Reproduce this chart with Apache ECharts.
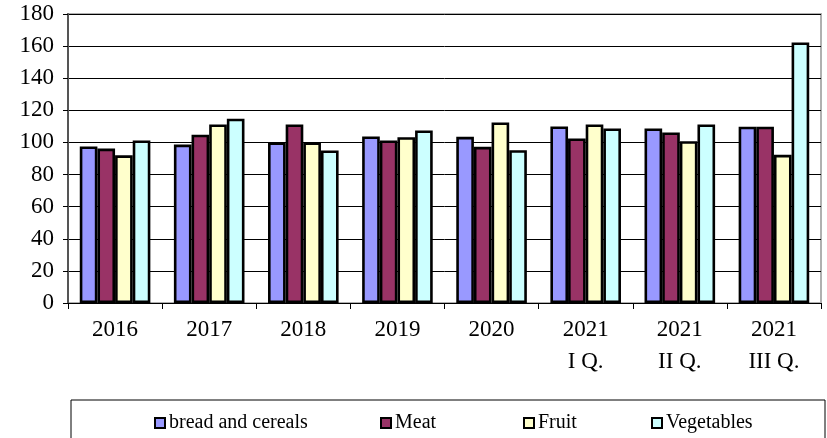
<!DOCTYPE html>
<html>
<head>
<meta charset="utf-8">
<script src="https://cdn.jsdelivr.net/npm/echarts@6/dist/echarts.min.js"></script>
<style>
  html, body { margin: 0; padding: 0; background: #fff; }
  #chart { width: 827px; height: 438px; }
</style>
</head>
<body>
<div id="chart"></div>
<script>
var categories = ['2016', '2017', '2018', '2019', '2020', '2021\nI Q.', '2021\nII Q.', '2021\nIII Q.'];
var seriesNames = ['bread and cereals', 'Meat', 'Fruit', 'Vegetables'];
var breadCereals = [97.5, 98.7, 100.0, 103.7, 103.5, 110.0, 108.7, 109.8];
var meat = [96.2, 104.8, 111.2, 101.2, 97.3, 102.5, 106.2, 109.8];
var fruit = [92.0, 111.2, 100.0, 103.3, 112.5, 111.2, 100.8, 92.3];
var vegetables = [101.2, 114.8, 95.0, 107.5, 95.2, 108.7, 111.2, 162.3];
var yTicks = { min: 0, max: 180, interval: 20 };

var colors = ['#9999ff', '#993366', '#ffffcc', '#ccffff'];
var values = [breadCereals, meat, fruit, vegetables];
var legendLefts = [149, 375, 518, 646];
var font = 'Liberation Serif';

var chart = echarts.init(document.getElementById('chart'));

var series = seriesNames.map(function(name, i) {
	return {
		name: name,
		type: 'bar',
		data: values[i],
		barGap: '0%',
		barCategoryGap: '25%',
		itemStyle: {
			color: colors[i],
			borderColor: '#000',
			borderWidth: 2.6
		},
		emphasis: { disabled: true }
	};
});

// one legend per item so the spacing can follow the original
var legends = seriesNames.map(function(name, i) {
	return {
		data: [name],
		left: legendLefts[i],
		top: 408,
		icon: 'rect',
		itemWidth: 10,
		itemHeight: 10,
		itemGap: 0,
		itemStyle: { borderColor: '#000', borderWidth: 2 },
		textStyle: { fontFamily: font, fontSize: 20, color: '#000', padding: [0, 0, 0, -1] },
		selectedMode: false
	};
});

chart.setOption({
	animation: false,
	backgroundColor: '#fff',
	grid: {
		left: 68,
		right: 6,
		top: 14,
		bottom: 135,
		show: true,
		borderColor: '#b0b0b0',
		borderWidth: 2
	},
	legend: legends,
	graphic: [{
		type: 'rect',
		shape: { x: 71, y: 400, width: 754, height: 60 },
		style: { fill: 'none', stroke: '#000', lineWidth: 1 },
		z: -1
	}],
	xAxis: {
		type: 'category',
		data: categories,
		axisLine: { lineStyle: { color: '#000', width: 1 } },
		axisTick: { show: true, length: 6, interval: 0, lineStyle: { color: '#000' } },
		axisLabel: {
			interval: 0,
			margin: 11,
			fontFamily: font,
			fontSize: 23,
			lineHeight: 32,
			color: '#000'
		}
	},
	yAxis: {
		type: 'value',
		min: yTicks.min,
		max: yTicks.max,
		interval: yTicks.interval,
		axisLine: { show: true, lineStyle: { color: '#555', width: 2 } },
		axisTick: { show: true, inside: false, length: 5, lineStyle: { color: '#000' } },
		axisLabel: {
			margin: 14,
			fontFamily: font,
			fontSize: 23,
			color: '#000'
		},
		splitLine: { show: true, lineStyle: { color: '#000', width: 1 } }
	},
	series: series
});
</script>
</body>
</html>
